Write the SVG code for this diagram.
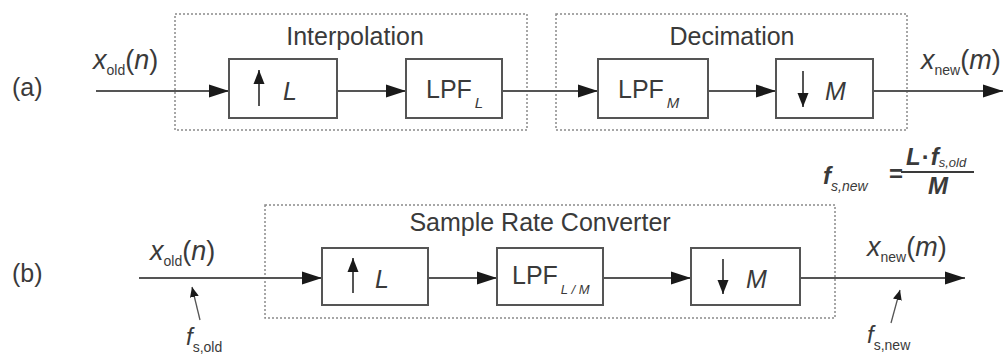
<svg xmlns="http://www.w3.org/2000/svg" width="1005" height="357" viewBox="0 0 1005 357">
<defs>
<style>
.t{font-family:"Liberation Sans",Arial,sans-serif;fill:#3a3a3a}
.i{font-style:italic}
.box{fill:#fff;stroke:#555;stroke-width:2}
.grp{fill:none;stroke:#8a8a8a;stroke-width:1.5;stroke-dasharray:2,2}
.wire{fill:none;stroke:#555;stroke-width:2}
.ptr{fill:none;stroke:#555;stroke-width:1.3}
</style>
<marker id="ah" markerUnits="userSpaceOnUse" markerWidth="21" markerHeight="14" refX="20" refY="7" orient="auto">
<path d="M0,0.5 L20,7 L0,13.5 z" fill="#1a1a1a"/>
</marker>
<marker id="sh" markerUnits="userSpaceOnUse" markerWidth="15" markerHeight="13" refX="14" refY="6.5" orient="auto">
<path d="M0,1 L14,6.5 L0,12 z" fill="#1a1a1a"/>
</marker>
<marker id="ph" markerUnits="userSpaceOnUse" markerWidth="11" markerHeight="10" refX="10" refY="5" orient="auto">
<path d="M0,0.5 L10,5 L0,9.5 z" fill="#1a1a1a"/>
</marker>
</defs>
<rect width="1005" height="357" fill="#fff"/>

<!-- group frames -->
<g id="interpolation">
<rect class="grp" x="175" y="14" width="352" height="116"/>
<text class="t" x="355" y="45" font-size="25" text-anchor="middle">Interpolation</text>
</g>
<g id="decimation">
<rect class="grp" x="556" y="14" width="351" height="116"/>
<text class="t" x="732" y="45" font-size="25" text-anchor="middle">Decimation</text>
</g>
<g id="src">
<rect class="grp" x="265" y="205" width="570" height="113"/>
<text class="t" x="540" y="231" font-size="25" text-anchor="middle">Sample Rate Converter</text>
</g>

<!-- connectors -->
<g id="connectors">
<line class="wire" x1="96" y1="91" x2="229" y2="91" marker-end="url(#ah)"/>
<line class="wire" x1="337" y1="91" x2="406" y2="91" marker-end="url(#ah)"/>
<line class="wire" x1="502" y1="91" x2="598" y2="91" marker-end="url(#ah)"/>
<line class="wire" x1="708" y1="91" x2="776" y2="91" marker-end="url(#ah)"/>
<line class="wire" x1="873" y1="91" x2="1003" y2="91" marker-end="url(#ah)"/>
<line class="wire" x1="139" y1="278" x2="322" y2="278" marker-end="url(#ah)"/>
<line class="wire" x1="428" y1="278" x2="497" y2="278" marker-end="url(#ah)"/>
<line class="wire" x1="603" y1="278" x2="691" y2="278" marker-end="url(#ah)"/>
<line class="wire" x1="800" y1="278" x2="965" y2="278" marker-end="url(#ah)"/>
<line class="ptr" x1="200" y1="320" x2="192" y2="287" marker-end="url(#ph)"/>
<line class="ptr" x1="891" y1="323" x2="900" y2="290" marker-end="url(#ph)"/>
</g>

<!-- row labels -->
<text class="t" x="12" y="96" font-size="25">(a)</text>
<text class="t" x="12" y="282" font-size="25">(b)</text>

<!-- row a nodes -->
<g id="a-up">
<rect class="box" x="229" y="59" width="108" height="59"/>
<line class="wire" x1="259" y1="106" x2="259" y2="70" marker-end="url(#sh)"/>
<text class="t i" x="283" y="100" font-size="25">L</text>
</g>
<g id="a-lpfl">
<rect class="box" x="406" y="59" width="96" height="59"/>
<text class="t" x="426" y="98" font-size="25">LPF<tspan class="i" font-size="15" dx="3" dy="10">L</tspan></text>
</g>
<g id="a-lpfm">
<rect class="box" x="598" y="59" width="110" height="59"/>
<text class="t" x="618" y="98" font-size="25">LPF<tspan class="i" font-size="15" dx="3" dy="10">M</tspan></text>
</g>
<g id="a-down">
<rect class="box" x="776" y="59" width="97" height="59"/>
<line class="wire" x1="803" y1="71" x2="803" y2="107" marker-end="url(#sh)"/>
<text class="t i" x="825" y="100" font-size="25">M</text>
</g>

<!-- row a signal labels -->
<text class="t" x="93" y="69" font-size="27"><tspan class="i">x</tspan><tspan font-size="14" dy="6">old</tspan><tspan dy="-6">(</tspan><tspan class="i">n</tspan>)</text>
<text class="t" x="921" y="69" font-size="27"><tspan class="i">x</tspan><tspan font-size="14" dy="6">new</tspan><tspan dy="-6">(</tspan><tspan class="i">m</tspan>)</text>

<!-- formula -->
<g id="formula" font-weight="bold">
<text class="t i" x="823" y="184" font-size="24">f<tspan font-size="14" font-weight="normal" dy="7">s,new</tspan></text>
<text class="t" x="889" y="182" font-size="24">=</text>
<line x1="901" y1="172" x2="974" y2="172" stroke="#3a3a3a" stroke-width="2"/>
<text class="t i" x="906" y="165" font-size="24">L<tspan font-style="normal" dx="1">·</tspan><tspan dx="1">f</tspan><tspan font-size="13" font-weight="normal" dy="2">s,old</tspan></text>
<text class="t i" x="938" y="194" font-size="24" text-anchor="middle">M</text>
</g>

<!-- row b nodes -->
<g id="b-up">
<rect class="box" x="322" y="248" width="106" height="57"/>
<line class="wire" x1="353" y1="293" x2="353" y2="258" marker-end="url(#sh)"/>
<text class="t i" x="375" y="288" font-size="25">L</text>
</g>
<g id="b-lpf">
<rect class="box" x="497" y="248" width="106" height="57"/>
<text class="t" x="512" y="284" font-size="25">LPF<tspan class="i" font-size="13" dx="3" dy="10">L / M</tspan></text>
</g>
<g id="b-down">
<rect class="box" x="691" y="248" width="109" height="57"/>
<line class="wire" x1="723" y1="259" x2="723" y2="294" marker-end="url(#sh)"/>
<text class="t i" x="746" y="288" font-size="25">M</text>
</g>

<!-- row b signal labels -->
<text class="t" x="150" y="260" font-size="27"><tspan class="i">x</tspan><tspan font-size="14" dy="6">old</tspan><tspan dy="-6">(</tspan><tspan class="i">n</tspan>)</text>
<text class="t" x="867" y="256" font-size="27"><tspan class="i">x</tspan><tspan font-size="14" dy="6">new</tspan><tspan dy="-6">(</tspan><tspan class="i">m</tspan>)</text>
<text class="t i" x="186" y="345" font-size="24">f<tspan font-style="normal" font-size="14" dy="7">s,old</tspan></text>
<text class="t i" x="867" y="343" font-size="24">f<tspan font-style="normal" font-size="14" dy="7">s,new</tspan></text>
</svg>
